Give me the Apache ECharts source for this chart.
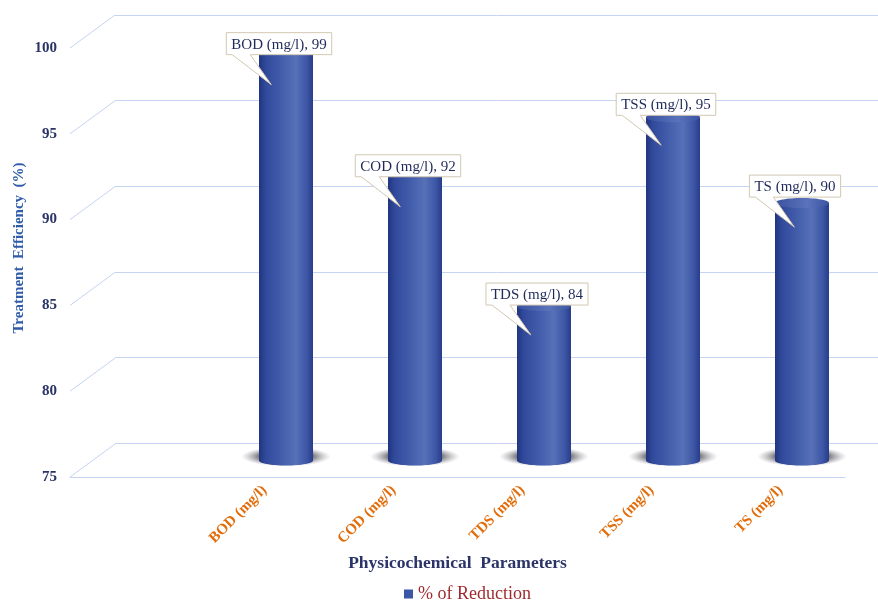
<!DOCTYPE html>
<html>
<head>
<meta charset="utf-8">
<script src="https://cdn.jsdelivr.net/npm/echarts@6/dist/echarts.min.js"></script>
<style>
  html, body { margin: 0; padding: 0; background: #ffffff; }
  #chart { width: 878px; height: 601px; }
</style>
</head>
<body>
<div id="chart"></div>
<script>
// ---- data ----
const categories = ['BOD (mg/l)', 'COD (mg/l)', 'TDS (mg/l)', 'TSS (mg/l)', 'TS (mg/l)'];
const reduction = [99, 92, 84, 95, 90];
const yTicks = [75, 80, 85, 90, 95, 100];
const seriesName = '% of Reduction';
const yTitle = 'Treatment  Efficiency  (%)';
const xTitle = 'Physicochemical  Parameters';

// ---- layout / style ----
const Y_MIN = 75, Y_MAX = 100, Y_STEP = 5;
const DEPTH = [45, -33];            // front plane -> back wall offset
const SERIF = '"Liberation Serif", "Times New Roman", serif';
const GRID_LINE = '#c6d3f2';
const BAR_RX = 27, BAR_RY = 5;
const SHADOW_R = 45, SHADOW_FLAT = 0.22;
const CALLOUT_NUDGE_Y = [8, 10, 1, 0, -4];   // per-callout vertical placement tweak (px)

const measureCtx = document.createElement('canvas').getContext('2d');
const CALLOUT_FONT = '15px ' + SERIF;
function textWidth(t) { measureCtx.font = CALLOUT_FONT; return measureCtx.measureText(t).width; }

const barGradient = () => new echarts.graphic.LinearGradient(0, 0, 1, 0, [
  { offset: 0, color: '#20357f' },
  { offset: 0.12, color: '#31499b' },
  { offset: 0.45, color: '#4560ad' },
  { offset: 0.68, color: '#5770b7' },
  { offset: 0.88, color: '#3e57a6' },
  { offset: 1, color: '#283c8a' }
]);
const topGradient = () => new echarts.graphic.LinearGradient(0, 0, 1, 0, [
  { offset: 0, color: '#3a52a0' },
  { offset: 0.6, color: '#5a73ba' },
  { offset: 1, color: '#3c55a3' }
]);
const shadowGradient = () => new echarts.graphic.RadialGradient(0.5, 0.5, 0.5, [
  { offset: 0, color: 'rgba(55,55,65,0.85)' },
  { offset: 0.6, color: 'rgba(60,60,70,0.7)' },
  { offset: 0.8, color: 'rgba(100,100,110,0.35)' },
  { offset: 1, color: 'rgba(140,140,150,0)' }
]);

// perspective connectors between the front tick positions and the back wall
function renderConnector(params, api) {
  const p = api.coord([0, api.value(1)]);
  return {
    type: 'line',
    shape: { x1: p[0], y1: p[1], x2: p[0] + DEPTH[0], y2: p[1] + DEPTH[1] },
    style: { stroke: GRID_LINE, lineWidth: 1 }
  };
}

// cylinder bars standing on the floor, with a soft floor shadow
function renderCylinder(params, api) {
  const i = api.value(0), v = api.value(1);
  const base = api.coord([i, Y_MIN]);
  const top = api.coord([i, v]);
  const cx = base[0];
  return {
    type: 'group',
    children: [
      {
        type: 'circle',
        shape: { cx: 0, cy: 0, r: SHADOW_R },
        x: cx, y: base[1] - 4, scaleY: SHADOW_FLAT,
        style: { fill: shadowGradient() }
      },
      { type: 'ellipse', shape: { cx: cx, cy: base[1], rx: BAR_RX, ry: BAR_RY }, style: { fill: barGradient() } },
      { type: 'rect', shape: { x: cx - BAR_RX, y: top[1], width: BAR_RX * 2, height: base[1] - top[1] }, style: { fill: barGradient() } },
      { type: 'ellipse', shape: { cx: cx, cy: top[1], rx: BAR_RX, ry: BAR_RY }, style: { fill: topGradient() } }
    ]
  };
}

// callout boxes with a pointer into each bar
function renderCallout(params, api) {
  const i = api.value(0), v = api.value(1);
  const top = api.coord([i, v]);
  const text = categories[i] + ', ' + v;
  const w = textWidth(text) + 10, h = 22;
  const bx = top[0] - 7;
  const B = top[1] - 2 + CALLOUT_NUDGE_Y[i];
  const L = bx - w / 2, R = bx + w / 2, T = B - h;
  const tip = [L + 45, B + 30];
  return {
    type: 'group',
    children: [
      {
        type: 'polygon',
        shape: { points: [[L, T], [R, T], [R, B], [L + 24, B], tip, [L + 6, B], [L, B]] },
        style: { fill: '#ffffff', stroke: '#d2c8b2', lineWidth: 1 }
      },
      {
        type: 'text',
        style: {
          text: text, x: bx, y: (T + B) / 2 + 1, align: 'center', verticalAlign: 'middle',
          font: CALLOUT_FONT, fill: '#1f2a5a'
        }
      }
    ]
  };
}

const chart = echarts.init(document.getElementById('chart'), null, { renderer: 'canvas' });

chart.setOption({
  backgroundColor: '#ffffff',
  animation: false,
  grid: [
    { left: 115, right: 0, top: 15, bottom: 158 },        // back wall
    { left: 70, right: 33, top: 48, bottom: 124 },        // front plane
    { left: 221.5, right: 11.5, top: 31.5, bottom: 140.5 }, // bar plane (mid depth)
    { left: 200, right: 33, top: 48, bottom: 124 }         // category label plane
  ],
  xAxis: [
    { gridIndex: 0, type: 'value', min: 0, max: 1, show: false },
    {
      gridIndex: 1, type: 'value', min: 0, max: 1,
      axisLine: { show: true, lineStyle: { color: GRID_LINE, width: 1 } },
      axisTick: { show: false }, axisLabel: { show: false }, splitLine: { show: false },
      name: xTitle, nameLocation: 'middle', nameGap: 77,
      nameTextStyle: { fontFamily: SERIF, fontWeight: 'bold', fontSize: 17.5, color: '#2a3468' }
    },
    { gridIndex: 2, type: 'category', data: categories, show: false },
    {
      gridIndex: 3, type: 'category', data: categories,
      axisLine: { show: false }, axisTick: { show: false }, splitLine: { show: false },
      axisLabel: { rotate: 45, margin: 11, fontFamily: SERIF, fontWeight: 'bold', fontSize: 15, color: '#e36c0a' }
    }
  ],
  yAxis: [
    {
      gridIndex: 0, type: 'value', min: Y_MIN, max: Y_MAX, interval: Y_STEP,
      axisLine: { show: false }, axisTick: { show: false }, axisLabel: { show: false },
      splitLine: { show: true, lineStyle: { color: GRID_LINE, width: 1 } }
    },
    {
      gridIndex: 1, type: 'value', min: Y_MIN, max: Y_MAX, interval: Y_STEP,
      axisLine: { show: false }, axisTick: { show: false }, splitLine: { show: false },
      axisLabel: { margin: 13, fontFamily: SERIF, fontWeight: 'bold', fontSize: 15, color: '#2a3566' }
    },
    { gridIndex: 2, type: 'value', min: Y_MIN, max: Y_MAX, show: false },
    { gridIndex: 3, type: 'value', min: Y_MIN, max: Y_MAX, show: false }
  ],
  legend: {
    left: 404, top: 585, padding: 0, itemWidth: 9, itemHeight: 9,
    data: [{ name: seriesName, icon: 'rect' }],
    textStyle: { fontFamily: SERIF, fontSize: 18, color: '#9e2a2f' }
  },
  graphic: [
    {
      type: 'text', x: 19, y: 248, rotation: Math.PI / 2,
      style: {
        text: yTitle, align: 'center', verticalAlign: 'middle',
        font: 'bold 15px ' + SERIF, fill: '#2e5caa'
      }
    }
  ],
  series: [
    {
      type: 'custom', xAxisIndex: 1, yAxisIndex: 1, silent: true, clip: false, z: 1,
      data: yTicks.map(v => [0, v]), renderItem: renderConnector
    },
    {
      type: 'custom', name: seriesName, xAxisIndex: 2, yAxisIndex: 2, clip: false, z: 2,
      itemStyle: { color: '#3b55a7' },
      data: reduction.map((v, i) => [i, v]), renderItem: renderCylinder
    },
    {
      type: 'custom', name: 'callouts', xAxisIndex: 2, yAxisIndex: 2, silent: true, clip: false, z: 3,
      data: reduction.map((v, i) => [i, v]), renderItem: renderCallout
    }
  ]
});
</script>
</body>
</html>
